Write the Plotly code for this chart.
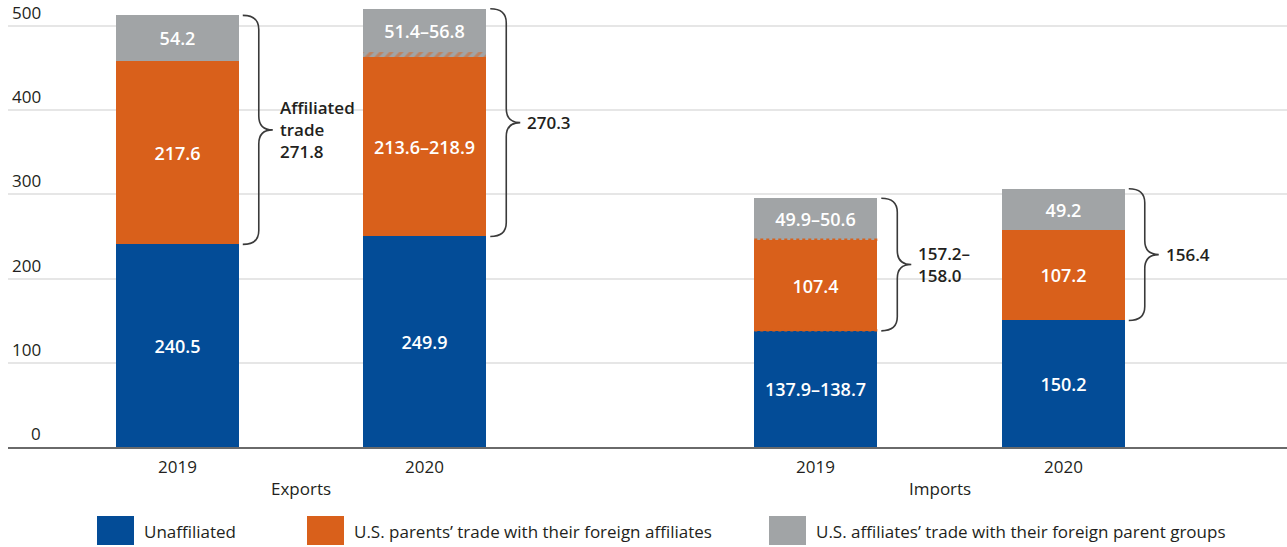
import plotly.graph_objects as go

# ---------------- data ----------------
years = ["2019", "2020", "2019", "2020"]
groups = ["Exports", "Imports"]
x_pos = [0.0, 1.0, 2.58, 3.58]
group_x = [0.5, 3.08]

unaff_lo = [240.5, 249.9, 137.9, 150.2]
unaff_hi = [240.5, 249.9, 138.7, 150.2]
parents_lo = [217.6, 213.6, 107.4, 107.2]
parents_hi = [217.6, 218.9, 107.4, 107.2]
affil_lo = [54.2, 51.4, 49.9, 49.2]
affil_hi = [54.2, 56.8, 50.6, 49.2]

unaff_labels = ["240.5", "249.9", "137.9–138.7", "150.2"]
parents_labels = ["217.6", "213.6–218.9", "107.4", "107.2"]
affil_labels = ["54.2", "51.4–56.8", "49.9–50.6", "49.2"]
brace_labels = ["Affiliated<br>trade<br>271.8", "270.3", "157.2–<br>158.0", "156.4"]

y_ticks = [0, 100, 200, 300, 400, 500]

legend_names = ["Unaffiliated",
                "U.S. parents’ trade with their foreign affiliates",
                "U.S. affiliates’ trade with their foreign parent groups"]

BLUE = "#034C97"
ORANGE = "#D9601B"
GRAY = "#A1A4A6"
TXT = "#231F20"
FONT = "Open Sans"

# ---------------- geometry helpers ----------------
W, H = 1287, 547
ML, MT, MB = 8, 0, 100
PW = W - ML
PH = H - MT - MB
X_RANGE = [-0.684, 4.484]
Y_RANGE = [0, 530.6]
px_per_x = PW / (X_RANGE[1] - X_RANGE[0])
px_per_y = PH / (Y_RANGE[1] - Y_RANGE[0])
BAR_W = 0.497


def paper_x(px):
    return (px - ML) / PW


def paper_y(py):
    return (MT + PH - py) / PH


hatch = [h - l for h, l in zip(parents_hi, parents_lo)]
totals = [a + b + c + d for a, b, c, d in zip(unaff_lo, parents_lo, hatch, affil_lo)]

fig = go.Figure()
tf = dict(family=FONT, size=18, color="white", weight=600)
fig.add_trace(go.Bar(x=x_pos, y=unaff_lo, width=BAR_W, marker=dict(color=BLUE, line=dict(width=0)),
                     text=unaff_labels, textposition="inside", insidetextanchor="middle",
                     textangle=0, insidetextfont=tf, hoverinfo="skip", showlegend=False))
fig.add_trace(go.Bar(x=x_pos, y=parents_lo, width=BAR_W, marker=dict(color=ORANGE, line=dict(width=0)),
                     text=parents_labels, textposition="inside", insidetextanchor="middle",
                     textangle=0, insidetextfont=tf, hoverinfo="skip", showlegend=False))
fig.add_trace(go.Bar(x=x_pos, y=hatch, width=BAR_W,
                     marker=dict(color=GRAY, line=dict(width=0),
                                 pattern=dict(shape="/", fgcolor=ORANGE, bgcolor=GRAY,
                                              size=7, solidity=0.45)),
                     hoverinfo="skip", showlegend=False))
fig.add_trace(go.Bar(x=x_pos, y=affil_lo, width=BAR_W, marker=dict(color=GRAY, line=dict(width=0)),
                     text=affil_labels, textposition="inside", insidetextanchor="middle",
                     textangle=0, insidetextfont=tf, hoverinfo="skip", showlegend=False))

shapes = []
annotations = []

# wavy/dotted boundaries where unaffiliated is a range
for i in range(len(x_pos)):
    if unaff_hi[i] > unaff_lo[i]:
        for yb in (unaff_lo[i], unaff_lo[i] + parents_lo[i]):
            shapes.append(dict(type="line", xref="x", yref="y",
                               x0=x_pos[i] - BAR_W / 2, x1=x_pos[i] + BAR_W / 2,
                               y0=yb + 0.8, y1=yb + 0.8,
                               line=dict(color=ORANGE, width=2.5, dash="dot"), layer="above"))

# braces
for i in range(len(x_pos)):
    right = x_pos[i] + BAR_W / 2
    x0 = right + 4 / px_per_x
    xv = right + 20 / px_per_x
    xt = right + 34 / px_per_x
    yT = totals[i]
    yB = unaff_lo[i]
    yM = (yT + yB) / 2
    r = 14 / px_per_y
    path = (f"M {x0},{yT} Q {xv},{yT} {xv},{yT - r} L {xv},{yM + r} "
            f"Q {xv},{yM} {xt},{yM} Q {xv},{yM} {xv},{yM - r} "
            f"L {xv},{yB + r} Q {xv},{yB} {x0},{yB}")
    shapes.append(dict(type="path", path=path, xref="x", yref="y",
                       line=dict(color="#3a3a3a", width=1.6)))
    annotations.append(dict(x=xt + 5 / px_per_x, y=yM, xref="x", yref="y", text=brace_labels[i],
                            showarrow=False, xanchor="left", yanchor="middle", align="left",
                            font=dict(family=FONT, size=17, color=TXT, weight=600)))

# y tick labels
for t in y_ticks:
    annotations.append(dict(x=paper_x(43), y=t, xref="paper", yref="y", text=str(t),
                            showarrow=False, xanchor="right", yanchor="bottom", yshift=0,
                            font=dict(family=FONT, size=17, color=TXT)))

# x labels
for xp, yr in zip(x_pos, years):
    annotations.append(dict(x=xp, y=0, xref="x", yref="y", text=yr, showarrow=False,
                            xanchor="center", yanchor="middle", yshift=-19,
                            font=dict(family=FONT, size=17, color=TXT)))
for gx, g in zip(group_x, groups):
    annotations.append(dict(x=gx, y=0, xref="x", yref="y", text=g, showarrow=False,
                            xanchor="center", yanchor="middle", yshift=-41,
                            font=dict(family=FONT, size=17, color=TXT)))

# legend
leg_sq_x = [97, 307, 769]
leg_colors = [BLUE, ORANGE, GRAY]
for sx, col, name in zip(leg_sq_x, leg_colors, legend_names):
    shapes.append(dict(type="rect", xref="paper", yref="paper",
                       x0=paper_x(sx), x1=paper_x(sx + 37), y0=paper_y(545), y1=paper_y(516),
                       fillcolor=col, line=dict(width=0)))
    annotations.append(dict(x=paper_x(sx + 45), y=paper_y(531), xref="paper", yref="paper",
                            text=name, showarrow=False, xanchor="left", yanchor="middle",
                            font=dict(family=FONT, size=17, color=TXT)))

fig.update_layout(
    width=W, height=H,
    margin=dict(l=ML, r=0, t=MT, b=MB),
    barmode="stack", bargap=0,
    plot_bgcolor="white", paper_bgcolor="white",
    font=dict(family=FONT, size=17, color=TXT),
    shapes=shapes, annotations=annotations,
    uniformtext=dict(mode=False),
    xaxis=dict(range=X_RANGE, showgrid=False, zeroline=False, showticklabels=False,
               showline=True, linecolor="#6a6a6a", linewidth=2, ticks=""),
    yaxis=dict(range=Y_RANGE, tickvals=y_ticks, showgrid=True, gridcolor="#e6e6e6", gridwidth=1.5,
               zeroline=False, showticklabels=False, showline=False, ticks=""),
)

fig.write_html("out.html", config={"displayModeBar": False},
               post_script="document.body.style.margin='0';document.body.style.overflow='hidden';")
